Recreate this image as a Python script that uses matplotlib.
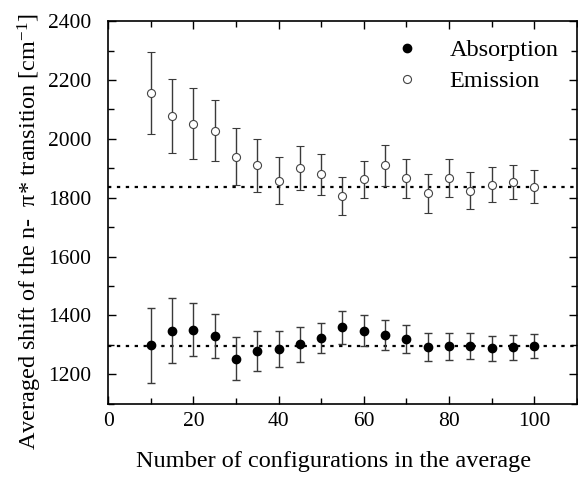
import matplotlib
matplotlib.use("Agg")
import matplotlib.pyplot as plt
from matplotlib.ticker import MultipleLocator

plt.rcParams['font.family'] = ['Liberation Serif', 'DejaVu Serif']
plt.rcParams['mathtext.fontset'] = 'custom'
plt.rcParams['mathtext.rm'] = 'Liberation Serif'
plt.rcParams['mathtext.it'] = 'Liberation Serif:italic'

n_configs = [10, 15, 20, 25, 30, 35, 40, 45, 50, 55, 60, 65, 70, 75, 80, 85, 90, 95, 100]
absorption = [1299, 1348, 1351, 1329, 1253, 1280, 1285, 1302, 1323, 1360, 1348, 1333, 1321, 1293, 1295, 1295, 1289, 1292, 1296]
absorption_err = [127, 111, 90, 75, 73, 68, 61, 59, 52, 56, 52, 50, 48, 46, 45, 44, 42, 42, 41]
emission = [2156, 2077, 2051, 2028, 1940, 1910, 1858, 1902, 1879, 1806, 1862, 1910, 1866, 1815, 1867, 1824, 1844, 1853, 1837]
emission_err = [138, 125, 120, 103, 97, 89, 81, 75, 69, 65, 62, 70, 67, 66, 65, 63, 60, 57, 56]
absorption_avg = 1297
emission_avg = 1836

fig = plt.figure(figsize=(5.78, 4.79), dpi=100)
ax = fig.add_axes([0.187, 0.157, 0.811, 0.799])

ax.axhline(emission_avg, color='black', linestyle=(0, (1.5, 2.5)), linewidth=1.6, zorder=1)
ax.axhline(absorption_avg, color='black', linestyle=(0, (1.5, 2.5)), linewidth=1.6, zorder=1)

ax.errorbar(n_configs, absorption, yerr=absorption_err, fmt='o', color='black',
            ecolor='#3a3a3a', elinewidth=1.0, capsize=3, capthick=1.0,
            markersize=6, markerfacecolor='black', markeredgecolor='black',
            label='Absorption', zorder=3)
ax.errorbar(n_configs, emission, yerr=emission_err, fmt='o', color='black',
            ecolor='#3a3a3a', elinewidth=1.0, capsize=3, capthick=1.0,
            markersize=5.8, markerfacecolor='white', markeredgecolor='#444444',
            markeredgewidth=0.8, label='Emission', zorder=3)

ax.set_xlim(0, 110)
ax.set_ylim(1100, 2400)
ax.xaxis.set_major_locator(MultipleLocator(20))
ax.xaxis.set_minor_locator(MultipleLocator(10))
ax.yaxis.set_major_locator(MultipleLocator(200))
ax.yaxis.set_minor_locator(MultipleLocator(100))
ax.tick_params(which='both', direction='in', top=True, right=True, labelsize=15.5, width=1.0)
ax.tick_params(which='major', length=6)
ax.tick_params(which='minor', length=4.5)
ax.tick_params(axis='x', which='major', pad=6)
ax.tick_params(axis='y', which='major', pad=12)
for s in ax.spines.values():
    s.set_linewidth(1.2)

ax.set_xlabel('Number of configurations in the average', fontsize=17.5)
ax.set_ylabel('Averaged shift of the n-  π* transition [cm$^{-1}$]', fontsize=17.5)
ax.xaxis.set_label_coords(0.481, -0.124)
ax.yaxis.set_label_coords(-0.137, 0.45)

handles, labels = ax.get_legend_handles_labels()
handles = [h[0] for h in handles]
ax.legend(handles, labels, loc='upper right', frameon=False, fontsize=17.5,
          handletextpad=1.0, borderaxespad=0.35, labelspacing=0.36, handlelength=1.5)

fig.savefig('out.png', dpi=100)
